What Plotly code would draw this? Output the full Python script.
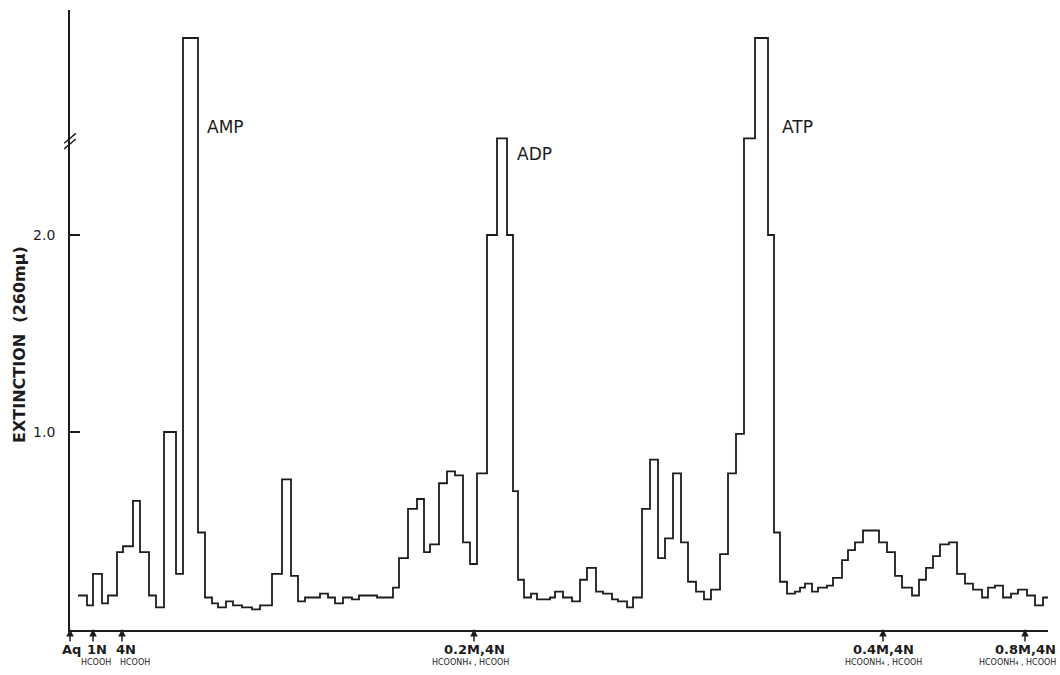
import plotly.graph_objects as go

# Effluent position (arbitrary units along the elution axis) of step boundaries
edges = [0.8, 1.7, 2.3, 3.2, 3.8, 4.7, 5.3, 6.3, 7.0, 7.9, 8.6, 9.4, 10.6, 11.3, 12.8,
         13.5, 14.2, 14.8, 15.6, 16.3, 17.2, 18.2, 19.0, 20.2, 21.2, 22.1, 22.8, 23.5,
         24.2, 25.0, 25.8, 26.5, 27.3, 28.2, 28.9, 30.7, 32.3, 32.9, 33.8, 34.7, 35.4,
         36.0, 36.9, 37.7, 38.5, 39.3, 40.0, 40.7, 41.7, 42.7, 43.7, 44.3, 44.8, 45.4,
         46.1, 46.7, 48.0, 48.5, 49.3, 50.2, 51.0, 51.7, 52.6, 53.3, 54.2, 54.8, 55.7,
         56.3, 57.2, 58.0, 58.8, 59.5, 60.3, 61.1, 61.8, 62.6, 63.4, 64.1, 65.0, 65.8,
         66.6, 67.4, 68.5, 69.8, 70.4, 71.0, 71.7, 72.5, 73.0, 73.5, 74.2, 74.8, 75.7,
         76.3, 77.2, 77.8, 78.5, 79.3, 80.9, 81.7, 82.5, 83.2, 84.2, 84.9, 85.6, 86.3,
         87.0, 87.9, 88.7, 89.5, 90.3, 91.2, 91.8, 92.5, 93.3, 94.1, 94.8, 95.7, 96.5,
         97.3, 98.0]

# Extinction at 260 mμ for each fraction (off-scale peaks drawn at 3.0)
extinction = [0.17, 0.12, 0.28, 0.13, 0.17, 0.39, 0.42, 0.65, 0.39, 0.17, 0.11, 1.00,
              0.28, 3.00, 0.49, 0.16, 0.13, 0.11, 0.14, 0.12, 0.11, 0.10, 0.12, 0.28,
              0.76, 0.27, 0.14, 0.16, 0.16, 0.18, 0.16, 0.13, 0.16, 0.15, 0.17, 0.16,
              0.21, 0.36, 0.61, 0.66, 0.39, 0.43, 0.74, 0.80, 0.78, 0.44, 0.33, 0.79,
              2.00, 2.49, 2.00, 0.70, 0.25, 0.16, 0.18, 0.15, 0.16, 0.19, 0.16, 0.14,
              0.25, 0.31, 0.19, 0.18, 0.15, 0.14, 0.11, 0.16, 0.61, 0.86, 0.36, 0.46,
              0.79, 0.44, 0.24, 0.19, 0.15, 0.20, 0.38, 0.79, 0.99, 2.49, 3.00, 2.00,
              0.49, 0.24, 0.18, 0.19, 0.21, 0.23, 0.19, 0.21, 0.22, 0.26, 0.35, 0.40,
              0.44, 0.50, 0.44, 0.39, 0.27, 0.21, 0.17, 0.25, 0.31, 0.37, 0.43, 0.44,
              0.28, 0.23, 0.20, 0.16, 0.21, 0.22, 0.16, 0.18, 0.20, 0.17, 0.12, 0.16]

assert len(edges) == len(extinction) + 1

# Peak labels
peak_names = ["AMP", "ADP", "ATP"]
peak_x = [13.5, 44.5, 71.0]
peak_y = [2.55, 2.41, 2.55]

# Eluent change markers
eluent_x = [0.0, 2.3, 5.2, 40.4, 81.3, 95.5]
eluent_main = ["Aq", "1N", "4N", "0.2M,4N", "0.4M,4N", "0.8M,4N"]
eluent_sub = ["", "HCOOH", "HCOOH", "HCOONH₄ , HCOOH", "HCOONH₄ , HCOOH", "HCOONH₄ , HCOOH"]

# y ticks
ytick_vals = [1.0, 2.0]
ytick_text = ["1.0", "2.0"]

ink = "#1c1c1c"
font_family = "DejaVu Sans"

fig = go.Figure()
fig.add_trace(go.Scatter(
    x=edges, y=extinction + [extinction[-1]],
    mode="lines", line=dict(shape="hv", color=ink, width=1.8),
    hoverinfo="skip", showlegend=False,
))

annotations = []
for name, px, py in zip(peak_names, peak_x, peak_y):
    annotations.append(dict(x=px, y=py, xref="x", yref="y", text=name, showarrow=False,
                            xanchor="left", yanchor="middle",
                            font=dict(family=font_family, size=17, color=ink)))

main_shift = [1, 4, 4, 0, 0, 0]
sub_shift = [0, 3, 13, -4, 0, -8]
for i, (ex, main, sub) in enumerate(zip(eluent_x, eluent_main, eluent_sub)):
    annotations.append(dict(x=ex, y=0, xref="x", yref="y", text="", showarrow=True,
                            ax=0, ay=14, arrowhead=2, arrowsize=1, arrowwidth=1.5,
                            arrowcolor=ink))
    annotations.append(dict(x=ex, y=0, xref="x", yref="y", text="<b>" + main + "</b>",
                            showarrow=False, xanchor="center", yanchor="top", yshift=-11,
                            xshift=main_shift[i],
                            font=dict(family=font_family, size=13, color=ink)))
    if sub:
        annotations.append(dict(x=ex, y=0, xref="x", yref="y", text=sub,
                                showarrow=False, xanchor="center", yanchor="top", yshift=-27,
                                xshift=sub_shift[i],
                                font=dict(family=font_family, size=8, color=ink)))

# y-axis title as rotated text
annotations.append(dict(x=-0.051, y=0.46, xref="paper", yref="paper",
                        text="<b>EXTINCTION  (260mμ)</b>", textangle=-90, showarrow=False,
                        xanchor="center", yanchor="middle",
                        font=dict(family=font_family, size=16, color=ink)))

# axis-break marks on the y axis
shapes = []
for off in [0.0, 0.009]:
    shapes.append(dict(type="line", xref="paper", yref="paper",
                       x0=-0.006, x1=0.006, y0=0.776 + off, y1=0.792 + off,
                       line=dict(color=ink, width=1.4)))

fig.update_layout(
    width=1060, height=675,
    margin=dict(l=70, r=12, t=10, b=45),
    paper_bgcolor="white", plot_bgcolor="white",
    showlegend=False,
    annotations=annotations,
    shapes=shapes,
    xaxis=dict(range=[0, 97.8], showline=True, linecolor=ink, linewidth=1.8,
               showgrid=False, zeroline=False, showticklabels=False, ticks=""),
    yaxis=dict(range=[-0.005, 3.142], showline=True, linecolor=ink, linewidth=1.8,
               showgrid=False, zeroline=False,
               tickvals=ytick_vals, ticktext=ytick_text,
               ticks="inside", ticklen=10, tickwidth=1.6, tickcolor=ink,
               ticklabelstandoff=10,
               tickfont=dict(family=font_family, size=14, color=ink)),
)

fig.write_html("out.html")
